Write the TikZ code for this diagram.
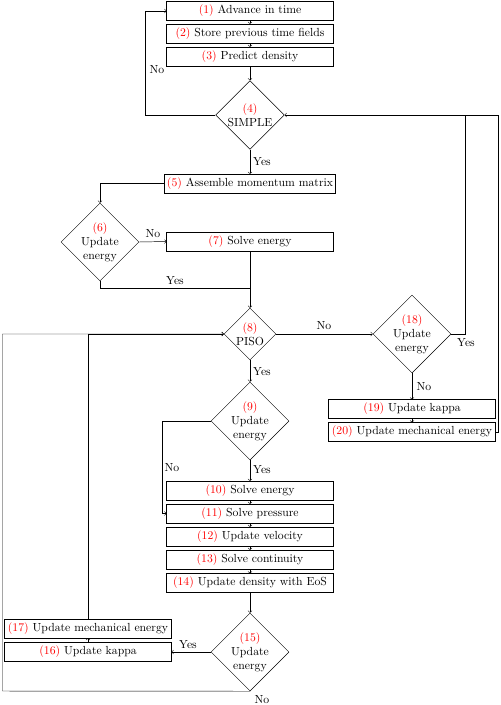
\documentclass[tikz,border=0pt]{standalone}
\usepackage{xcolor}
\usetikzlibrary{shapes.geometric}

\begin{document}
\begin{tikzpicture}[
    x = 0.03cm, y = -0.03cm,
    box/.style = {draw, rectangle, minimum width = 5cm, minimum height = 16pt, inner sep = 2pt},
    decision/.style = {draw, diamond, aspect = 1, align = center, inner sep = 0.2pt},
    every path/.style = {->}]

\useasboundingbox (0,0) rectangle (500,705);

% main column
\node[box] (s1) at (250,11) {\textcolor{red}{(1)} Advance in time};
\node[box] (s2) at (250,33.5) {\textcolor{red}{(2)} Store previous time fields};
\node[box] (s3) at (250,56.5) {\textcolor{red}{(3)} Predict density};
\node[decision] (s4) at (250,115) {\textcolor{red}{(4)}\\SIMPLE};
\node[box] (s5) at (250,183.5) {\textcolor{red}{(5)} Assemble momentum matrix};
\node[decision] (s6) at (100,242) {\textcolor{red}{(6)}\\Update\\energy};
\node[box] (s7) at (250,241.5) {\textcolor{red}{(7)} Solve energy};
\node[decision] (s8) at (250,334) {\textcolor{red}{(8)}\\PISO};
\node[decision] (s9) at (250,421) {\textcolor{red}{(9)}\\Update\\energy};
\node[box] (s10) at (250,490.5) {\textcolor{red}{(10)} Solve energy};
\node[box] (s11) at (250,513.5) {\textcolor{red}{(11)} Solve pressure};
\node[box] (s12) at (250,536.5) {\textcolor{red}{(12)} Update velocity};
\node[box] (s13) at (250,559.5) {\textcolor{red}{(13)} Solve continuity};
\node[box] (s14) at (250,583) {\textcolor{red}{(14)} Update density with EoS};
\node[decision] (s15) at (250,652) {\textcolor{red}{(15)}\\Update\\energy};
\node[box] (s16) at (88,652) {\textcolor{red}{(16)} Update kappa};
\node[box] (s17) at (88,628.5) {\textcolor{red}{(17)} Update mechanical energy};
\node[decision] (s18) at (412,334) {\textcolor{red}{(18)}\\Update\\energy};
\node[box] (s19) at (412,409) {\textcolor{red}{(19)} Update kappa};
\node[box] (s20) at (412,432) {\textcolor{red}{(20)} Update mechanical energy};

\coordinate (l4) at (145,115);
\coordinate (j6) at (250,288);
\coordinate (r1) at (465,115);
\coordinate (r2) at (498.5,115);
\coordinate (l9) at (162,421);
\coordinate (l15) at (2.5,691);

\draw (s1) -- (s2);
\draw (s2) -- (s3);
\draw (s3) -- (s4);
\draw (s4.west) -- (l4) |- (s1.west);
\draw (s4) -- (s5);
\draw (s5.west) -| (s6.north);
\draw (s6.east) -- (s7.west);
\draw (s7) -- (s8);
\draw[-] (s6.south) |- (j6);
\draw (s8) -- (s18);
\draw (s18.east) -| (r1) -- (s4.east);
\draw (s18) -- (s19);
\draw (s19) -- (s20);
\draw[-] (s20.east) -| (r2) -- (r1);
\draw (s8) -- (s9);
\draw (s9.west) -- (l9) |- (s11.west);
\draw (s9) -- (s10);
\draw (s10) -- (s11);
\draw (s11) -- (s12);
\draw (s12) -- (s13);
\draw (s13) -- (s14);
\draw (s14) -- (s15);
\draw (s15.west) -- (s16.east);
\draw (s16) -- (s17);
\draw (s17.north) |- (s8.west);
\draw (s15.south) -- (l15) |- (s8.west);

\path (157,70) node (n4) {No}
      (262,162) node (y4) {Yes}
      (153,234) node (n6) {No}
      (175,281) node (y6) {Yes}
      (324,326) node (n8) {No}
      (262,372) node (y8) {Yes}
      (466,343) node (y18) {Yes}
      (424,387) node (n18) {No}
      (172,468) node (n9) {No}
      (262,470) node (y9) {Yes}
      (188,645) node (y15) {Yes}
      (262,700) node (n15) {No};
\end{tikzpicture}
\end{document}
